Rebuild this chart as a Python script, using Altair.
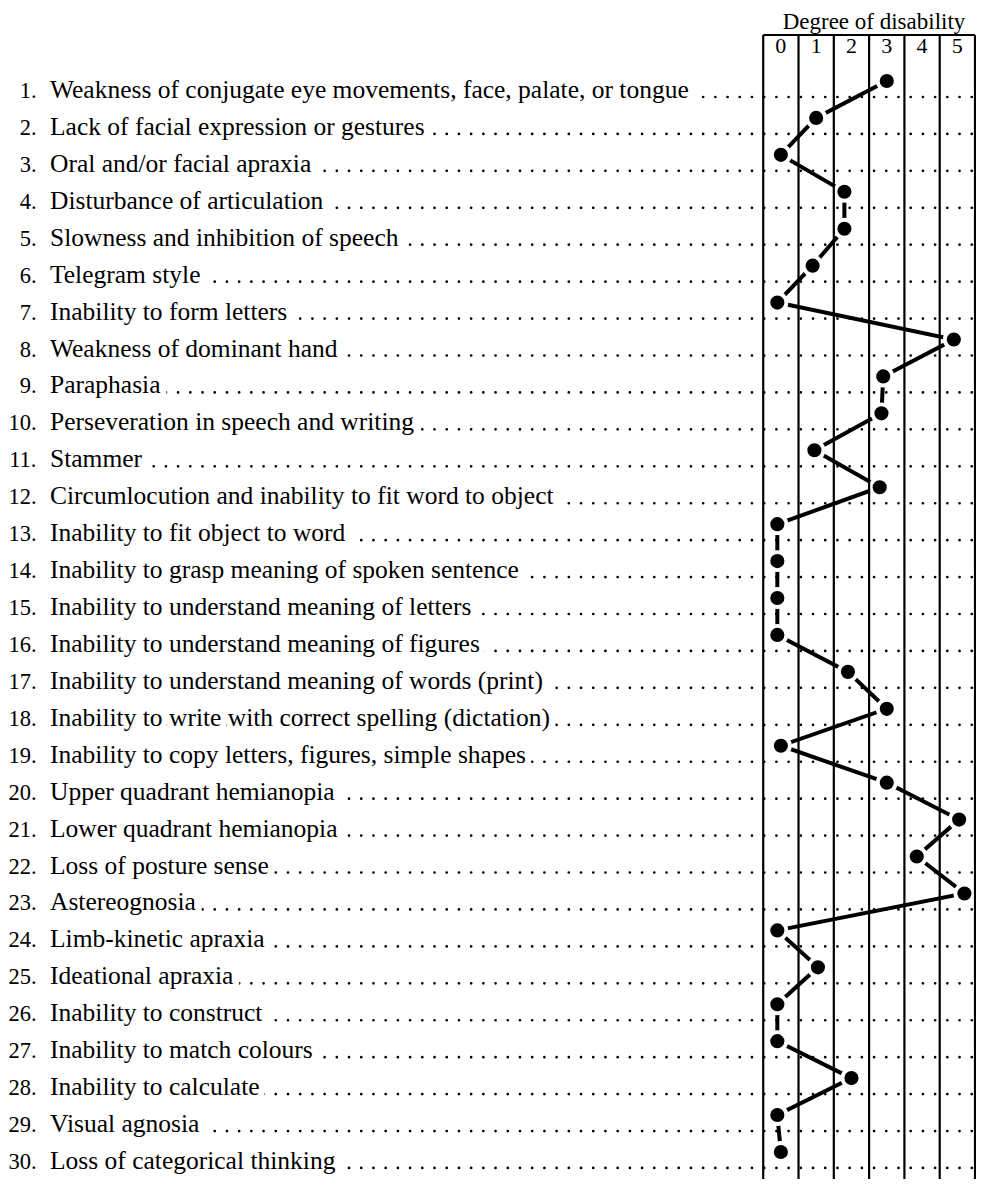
import altair as alt
import pandas as pd

# ---------------- data ----------------
items = [
    "Weakness of conjugate eye movements, face, palate, or tongue",
    "Lack of facial expression or gestures",
    "Oral and/or facial apraxia",
    "Disturbance of articulation",
    "Slowness and inhibition of speech",
    "Telegram style",
    "Inability to form letters",
    "Weakness of dominant hand",
    "Paraphasia",
    "Perseveration in speech and writing",
    "Stammer",
    "Circumlocution and inability to fit word to object",
    "Inability to fit object to word",
    "Inability to grasp meaning of spoken sentence",
    "Inability to understand meaning of letters",
    "Inability to understand meaning of figures",
    "Inability to understand meaning of words (print)",
    "Inability to write with correct spelling (dictation)",
    "Inability to copy letters, figures, simple shapes",
    "Upper quadrant hemianopia",
    "Lower quadrant hemianopia",
    "Loss of posture sense",
    "Astereognosia",
    "Limb-kinetic apraxia",
    "Ideational apraxia",
    "Inability to construct",
    "Inability to match colours",
    "Inability to calculate",
    "Visual agnosia",
    "Loss of categorical thinking",
]
degrees = [3.0, 1.0, 0.0, 1.8, 1.8, 0.9, -0.1, 4.9, 2.9, 2.85,
           0.95, 2.8, -0.1, -0.1, -0.1, -0.1, 1.9, 3.0, 0.0, 3.0,
           5.05, 3.85, 5.2, -0.1, 1.05, -0.1, -0.1, 2.0, -0.1, 0.0]
levels = [0, 1, 2, 3, 4, 5]
header = "Degree of disability"

rows = list(range(1, len(items) + 1))
df = pd.DataFrame({
    "row": rows,
    "num": [f"{r}." for r in rows],
    "label": items,
    "degree": degrees,
})
cols_df = pd.DataFrame({"level": levels, "txt": [str(l) for l in levels]})
bounds_df = pd.DataFrame({"b": [l - 0.5 for l in levels] + [levels[-1] + 0.5]})
top_df = pd.DataFrame({"b0": [levels[0] - 0.5], "b1": [levels[-1] + 0.5]})
head_df = pd.DataFrame({"t": [header]})

# ---------------- layout ----------------
W, H = 968, 1171
FONT = "Liberation Serif"
xscale = alt.Scale(domain=[-21.894, 5.528], nice=False, zero=False)
yscale = alt.Scale(domain=[-1.410, 30.299], nice=False, zero=False, reverse=True)
X = lambda f: alt.X(f, scale=xscale, axis=None)
Y = lambda f: alt.Y(f, scale=yscale, axis=None)
PT_OFF = -16
LAB_SIZE = 25.5
BOX_TOP = 27

base = alt.Chart(df)

profile = base.mark_line(color="black", strokeWidth=4, yOffset=PT_OFF).encode(
    x=X("degree:Q"), y=Y("row:Q"), order="row:Q")
halo = base.mark_circle(color="white", opacity=1, size=480, yOffset=PT_OFF).encode(
    x=X("degree:Q"), y=Y("row:Q"))

dotted = base.mark_rule(color="black", strokeWidth=2.7, strokeDash=[0.01, 12.2],
                        strokeCap="round").encode(
    x=alt.value(48), x2=alt.value(W), y=Y("row:Q"))

vlines = alt.Chart(bounds_df).mark_rule(color="black", strokeWidth=2.2).encode(
    x=X("b:Q"), y=alt.value(BOX_TOP), y2=alt.value(H))
topline = alt.Chart(top_df).mark_rule(color="black", strokeWidth=2.2).encode(
    x=X("b0:Q"), x2="b1:Q", y=alt.value(BOX_TOP))

col_txt = alt.Chart(cols_df).mark_text(font=FONT, fontSize=22, baseline="alphabetic",
                                       color="black").encode(
    x=X("level:Q"), y=alt.value(45), text="txt:N")
head_txt = alt.Chart(head_df).mark_text(font=FONT, fontSize=23, baseline="alphabetic",
                                        align="center", color="black").encode(
    x=alt.value(866), y=alt.value(21), text="t:N")

num_txt = base.mark_text(font=FONT, fontSize=22.5, align="right", baseline="alphabetic",
                         dy=1, color="black").encode(
    x=alt.value(28.5), y=Y("row:Q"), text="num:N")
lab_halo = base.mark_text(font=FONT, fontSize=LAB_SIZE, align="left", baseline="alphabetic",
                          dy=1, color="white", stroke="white", strokeWidth=12,
                          strokeJoin="round").encode(
    x=alt.value(42), y=Y("row:Q"), text="label:N")
lab_txt = base.mark_text(font=FONT, fontSize=LAB_SIZE, align="left", baseline="alphabetic",
                         dy=1, color="black").encode(
    x=alt.value(42), y=Y("row:Q"), text="label:N")

dots = base.mark_circle(color="black", opacity=1, size=200, yOffset=PT_OFF).encode(
    x=X("degree:Q"), y=Y("row:Q"))

chart = alt.layer(
    profile, halo, dotted, vlines, topline, lab_halo, num_txt, lab_txt,
    col_txt, head_txt, dots
).properties(
    width=W, height=H,
    autosize=alt.AutoSizeParams(type="none"),
    padding={"left": 0, "top": 0, "right": 0, "bottom": 0},
    background="white",
).configure_view(stroke=None)

chart.save("out.html", embed_options={"renderer": "svg", "actions": False})
